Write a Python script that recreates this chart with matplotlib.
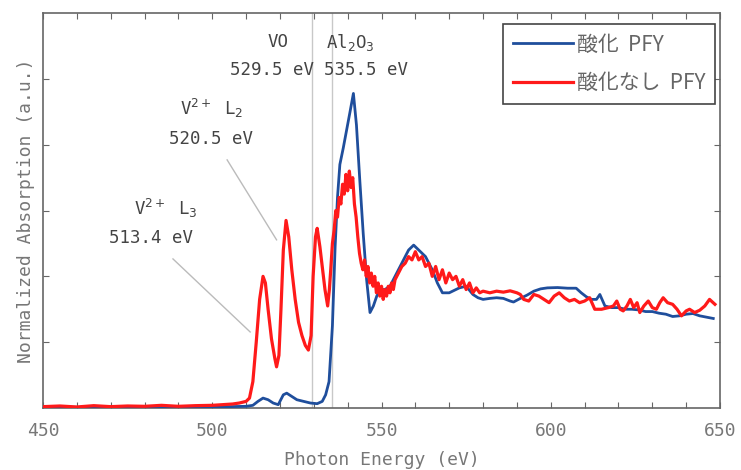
import matplotlib
matplotlib.use("Agg")
import matplotlib.pyplot as plt

# ---- data ----
blue_x = [450, 460, 470, 480, 490, 500, 505, 510, 512, 513.5, 515, 516.5, 518, 519.5, 521, 522,
          523.5, 525, 527, 529, 531, 532.5, 533.5, 534.5, 535.5, 536.3, 537, 537.7, 538.7, 539.7,
          540.7, 541.7, 542.6, 543.6, 544.6, 545.6, 546.6, 547.6, 548.6, 549.6, 551, 552.5, 554.5,
          556.5, 558, 559.5, 561, 563, 565, 566.5, 568, 570, 572, 573, 575, 577, 578.5, 580, 582,
          584, 586, 588, 589, 591, 593, 595, 597, 599, 602, 605, 607.5, 609, 610.5, 612, 613.5,
          614.5, 616, 618, 620, 622, 624, 626, 628, 630, 632, 634, 636, 638, 640, 642, 644, 646, 648]
blue_y = [0.003, 0.002, 0.003, 0.002, 0.003, 0.003, 0.004, 0.005, 0.008, 0.02, 0.03, 0.025, 0.015,
          0.01, 0.04, 0.045, 0.035, 0.025, 0.02, 0.015, 0.013, 0.02, 0.04, 0.08, 0.25, 0.49, 0.64,
          0.74, 0.79, 0.845, 0.90, 0.956, 0.86, 0.69, 0.53, 0.39, 0.29, 0.31, 0.34, 0.36, 0.36,
          0.37, 0.41, 0.45, 0.48, 0.495, 0.48, 0.46, 0.42, 0.38, 0.35, 0.35, 0.36, 0.365, 0.37,
          0.345, 0.335, 0.33, 0.333, 0.335, 0.333, 0.325, 0.322, 0.333, 0.343, 0.355, 0.362, 0.365,
          0.366, 0.364, 0.364, 0.35, 0.338, 0.33, 0.33, 0.345, 0.31, 0.305, 0.305, 0.30, 0.30,
          0.298, 0.293, 0.293, 0.288, 0.285, 0.278, 0.28, 0.285, 0.287, 0.28, 0.276, 0.272]

red_x = [450, 455, 460, 465, 470, 475, 480, 485, 490, 495, 500, 503, 506, 508, 510, 511, 512, 513,
         514, 515, 515.7, 516.5, 517.5, 518.5, 519, 519.7, 520.3, 521, 521.8, 522.6, 523.5, 524.5,
         525.5, 526.5, 527.5, 528.4, 529.2, 529.8, 530.5, 531, 531.8, 532.6, 533.3, 534.1, 534.6,
         535, 535.5, 536, 536.5, 537, 537.5, 538, 538.5, 539, 539.5, 540, 540.5, 541, 541.5, 542,
         542.5, 543, 543.5, 544, 544.5, 545, 545.5, 546, 546.5, 547, 547.5, 548, 548.5, 549, 549.5,
         550, 550.5, 551, 551.5, 552, 552.5, 553, 553.5, 554, 555, 556, 557, 558, 559, 560, 561,
         562, 563, 564, 565, 566, 567, 568, 569, 570, 571, 572, 573, 574, 575, 576, 577, 578, 579,
         580, 582, 584, 586, 588, 590, 591, 592, 593.5, 595, 596.5, 598, 599.5, 601, 602.5, 604,
         605.5, 607, 608.5, 610, 611.5, 613, 615, 617, 618.5, 619.5, 620.5, 621.4, 622.5, 623.5,
         624.5, 625.5, 626.3, 627.5, 628.8, 630, 631.2, 632.2, 633.2, 634.5, 636, 637.3, 638.6,
         640, 641, 642.5, 644, 645.5, 646.9, 648.5]
red_y = [0.004, 0.006, 0.003, 0.007, 0.004, 0.006, 0.005, 0.008, 0.005, 0.007, 0.008, 0.01, 0.012,
         0.015, 0.02, 0.03, 0.08, 0.2, 0.33, 0.40, 0.38, 0.30, 0.21, 0.15, 0.125, 0.16, 0.3, 0.48,
         0.57, 0.52, 0.42, 0.33, 0.26, 0.22, 0.19, 0.176, 0.22, 0.40, 0.52, 0.546, 0.49, 0.42,
         0.36, 0.31, 0.36, 0.42, 0.50, 0.54, 0.60, 0.58, 0.64, 0.62, 0.68, 0.65, 0.71, 0.66, 0.72,
         0.67, 0.70, 0.62, 0.58, 0.52, 0.47, 0.44, 0.42, 0.45, 0.40, 0.43, 0.38, 0.41, 0.37, 0.40,
         0.35, 0.38, 0.34, 0.37, 0.33, 0.36, 0.34, 0.37, 0.35, 0.38, 0.36, 0.39, 0.41, 0.43, 0.44,
         0.46, 0.45, 0.475, 0.45, 0.46, 0.43, 0.44, 0.40, 0.43, 0.39, 0.42, 0.38, 0.41, 0.39, 0.40,
         0.37, 0.39, 0.36, 0.38, 0.35, 0.365, 0.35, 0.355, 0.35, 0.355, 0.352, 0.356, 0.35, 0.345,
         0.33, 0.325, 0.345, 0.34, 0.33, 0.32, 0.34, 0.35, 0.335, 0.325, 0.33, 0.32, 0.325, 0.335,
         0.30, 0.30, 0.305, 0.31, 0.325, 0.30, 0.295, 0.31, 0.33, 0.305, 0.32, 0.29, 0.31, 0.325,
         0.305, 0.30, 0.32, 0.335, 0.32, 0.315, 0.30, 0.28, 0.295, 0.30, 0.29, 0.297, 0.31, 0.33,
         0.315]

series_labels = ["酸化  PFY", "酸化なし  PFY"]
ref_lines = [529.5, 535.5]
x_ticks = [450, 500, 550, 600, 650]

# ---- figure ----
MONO = ["DejaVu Sans Mono", "DejaVu Sans"]
fig = plt.figure(figsize=(7.41, 4.70), dpi=100)
ax = fig.add_axes([0.058, 0.132, 0.9137, 0.840])

for xv in ref_lines:
    ax.axvline(xv, color="#c8c8c8", lw=1.0, zorder=1)

ax.plot(blue_x, blue_y, color="#1f4e9c", lw=2.0, label=series_labels[0], zorder=3)
ax.plot(red_x, red_y, color="#ff1a1a", lw=2.3, label=series_labels[1], zorder=4)

ax.set_xlim(450, 650)
ax.set_ylim(0, 1.2)
ax.set_xticks(list(range(450, 651, 10)))
ax.set_xticklabels([str(v) if v in x_ticks else "" for v in range(450, 651, 10)])
ax.set_yticks([0.2, 0.4, 0.6, 0.8, 1.0])
ax.set_yticklabels([])
ax.tick_params(direction="in", top=True, right=True, length=4, color="#666666",
               labelcolor="#777777", labelsize=13, pad=10)
for lab in ax.get_xticklabels():
    lab.set_family(MONO)
for sp in ax.spines.values():
    sp.set_color("#666666")
    sp.set_linewidth(1.2)

ax.set_xlabel("Photon Energy (eV)", fontsize=13, color="#777777", family=MONO, labelpad=8)
ax.set_ylabel("Normalized Absorption (a.u.)", fontsize=13, color="#777777", family=MONO,
              labelpad=-4)

tc = "#444444"
kw = dict(ha="center", va="center", fontsize=12.5, color=tc, family=MONO)
ax.text(519.4, 1.112, "VO", **kw)
ax.text(517.7, 1.027, "529.5 eV", **kw)
ax.text(540.7, 1.112, "Al$_2$O$_3$", **kw)
ax.text(545.4, 1.027, "535.5 eV", **kw)
ax.text(499.9, 0.909, "V$^{2+}$ L$_2$", **kw)
ax.text(499.6, 0.818, "520.5 eV", **kw)
ax.text(486.3, 0.605, "V$^{2+}$ L$_3$", **kw)
ax.text(481.9, 0.517, "513.4 eV", **kw)
ax.plot([504.4, 519.0], [0.754, 0.511], color="#bbbbbb", lw=1.0, zorder=2)
ax.plot([488.4, 511.2], [0.453, 0.231], color="#bbbbbb", lw=1.0, zorder=2)

leg = ax.legend(loc="upper right", bbox_to_anchor=(0.993, 0.972), borderaxespad=0,
                prop={"family": ["Noto Sans CJK JP", "DejaVu Sans"], "size": 15},
                fancybox=False, framealpha=1, edgecolor="#444444", handlelength=2.9,
                handletextpad=0.2, labelspacing=0.8, borderpad=0.45)
leg.get_frame().set_linewidth(1.2)
for t in leg.get_texts():
    t.set_color("#666666")

fig.savefig("out.png", dpi=100)
